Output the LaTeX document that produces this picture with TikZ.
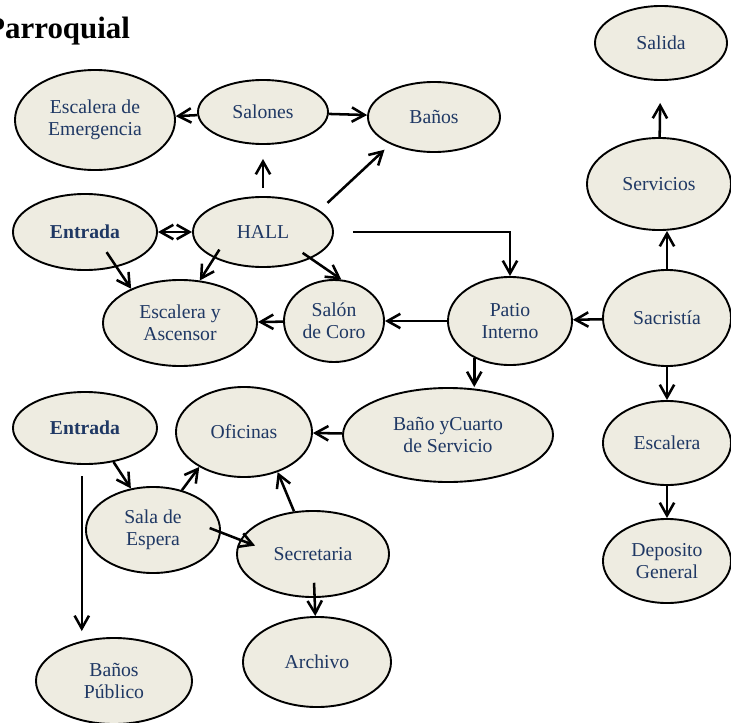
\documentclass[tikz,border=0pt]{standalone}
\usepackage{fontspec}
\setmainfont{Liberation Serif}
\usetikzlibrary{shapes.geometric,arrows.meta}
\definecolor{bubfill}{RGB}{238,236,225}
\definecolor{bubtext}{RGB}{31,56,100}

\begin{document}
\begin{tikzpicture}[x=0.025cm, y=-0.025cm,
			elt/.style={ellipse, draw=black, line width=1.35pt, fill=bubfill, text=bubtext, align=center, inner sep=0pt, font=\fontsize{14}{15.5}\selectfont},
			arr/.style={line width=1.8pt, -{Straight Barb[length=3.2mm,width=3.6mm]}},
			biarr/.style={line width=1.8pt, {Straight Barb[length=3.2mm,width=3.6mm]}-{Straight Barb[length=3.2mm,width=3.6mm]}}]
		\useasboundingbox (0,0) rectangle (731,723);
		\node (title) [anchor=base east, font=\fontsize{22}{26}\selectfont\bfseries] at (135,38) {Parroquial};
		% upper floor
		\path 	(95,120) 	node 	(emerg) [elt, minimum width=4cm, minimum height=2.5cm] {Escalera de\\Emergencia}
		        (263,112) node 	(salones) [elt, minimum width=3.25cm, minimum height=1.6cm] {Salones}
		        (434,117) node 	(banos) [elt, minimum width=3.3cm, minimum height=1.75cm] {Baños}
		        (661,43) node 	(salida) [elt, minimum width=3.3cm, minimum height=1.85cm] {Salida}
		        (659,184) node 	(servicios) [elt, minimum width=3.6cm, minimum height=2.3cm] {Servicios}
		        (85,232) node 	(entrada) [elt, minimum width=3.6cm, minimum height=1.9cm, font=\fontsize{14}{15.5}\selectfont\bfseries] {Entrada}
		        (263,232) node 	(hall) [elt, minimum width=3.5cm, minimum height=1.75cm] {HALL}
		        (180,323) node 	(escasc) [elt, minimum width=3.85cm, minimum height=2.15cm] {Escalera y\\Ascensor}
		        (334,321) node 	(salon) [elt, minimum width=2.5cm, minimum height=2.05cm] {Salón\\de Coro}
		        (510,321) node 	(patio) [elt, minimum width=3.1cm, minimum height=2.2cm] {Patio\\Interno}
		        (667,318) node 	(sacristia) [elt, minimum width=3.2cm, minimum height=2.4cm] {Sacristía}
		        (448,435) node 	(bano) [elt, minimum width=5.25cm, minimum height=2.35cm] {Baño yCuarto\\de Servicio}
		        (667,443) node 	(escalera) [elt, minimum width=3.2cm, minimum height=2.1cm] {Escalera}
		        (667,561) node 	(deposito) [elt, minimum width=3.2cm, minimum height=2.1cm] {Deposito\\General};
		% lower floor
		\path 	(85,428) 	node 	(entrada2) [elt, minimum width=3.6cm, minimum height=1.8cm, font=\fontsize{14}{15.5}\selectfont\bfseries] {Entrada}
		        (244,432) node 	(oficinas) [elt, minimum width=3.4cm, minimum height=2.25cm] {Oficinas}
		        (153,530) node 	(sala) [elt, minimum width=3.35cm, minimum height=2.15cm] {Sala de\\Espera}
		        (313,554) node 	(secretaria) [elt, minimum width=3.8cm, minimum height=2.15cm] {Secretaria}
		        (317,662) node 	(archivo) [elt, minimum width=3.7cm, minimum height=2.25cm] {Archivo}
		        (114,681) node 	(banospub) [elt, minimum width=3.9cm, minimum height=2.15cm] {Baños\\Público};
		\draw [arr] (salones) -- (emerg);
		\draw [arr] (salones) -- (banos);
		\draw [arr, shorten <=0.2cm, shorten >=0.35cm] (hall) -- (salones);
		\draw [arr, shorten <=0.27cm, shorten >=0.2cm] (hall.21) -- (banos.212);
		\draw [biarr] (entrada) -- (hall);
		\draw [arr, shorten <=0.47cm] (hall.east) -| (patio.north);
		\draw [arr, shorten <=-0.45cm] (entrada.-48) -- (escasc.145);
		\draw [arr, shorten <=-0.25cm] (hall.208) -- (escasc.65);
		\draw [arr, shorten <=-0.25cm] (hall.-29) -- (salon.80);
		\draw [arr] (salon) -- (escasc);
		\draw [arr] (patio) -- (salon);
		\draw [arr] (sacristia) -- (patio);
		\draw [arr] (sacristia.north) -- (servicios.south -| sacristia.north);
		\draw [arr, shorten >=0.55cm] (servicios) -- (salida);
		\draw [arr] (sacristia) -- (escalera);
		\draw [arr] (escalera) -- (deposito);
		\draw [arr] (patio.226) -- (patio.226 |- bano.north);
		\draw [arr] (bano) -- (oficinas);
		\draw [arr] (entrada2.-50) -- (sala.118);
		\draw [arr, shorten <=0.28cm, shorten >=0.15cm] (entrada2.-95) -- (entrada2.-95 |- banospub.north);
		\draw [arr] (sala.54) -- (oficinas.218);
		\draw [arr, shorten <=-0.3cm, shorten >=-0.4cm] (sala.-2) -- (secretaria.169);
		\draw [arr] (secretaria.114) -- (oficinas.-50);
		\draw [arr, shorten <=-0.38cm] (secretaria) -- (archivo);
	\end{tikzpicture}
\end{document}
